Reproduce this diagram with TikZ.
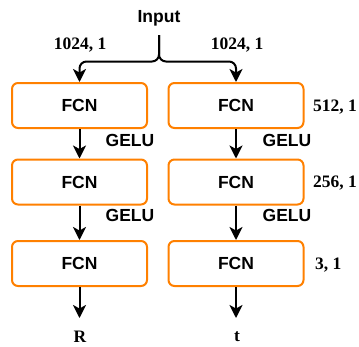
\documentclass[tikz,border=0pt]{standalone}
\usepackage{fontspec}
\setmainfont{Liberation Serif}
\setsansfont{Liberation Sans}
\usetikzlibrary{arrows.meta}
\definecolor{boxorange}{RGB}{255,128,0}
\begin{document}
\begin{tikzpicture}[x=1pt,y=-1pt,
  fcn/.style={draw=boxorange,line width=2pt,rounded corners=6pt,
    minimum width=135pt,minimum height=45pt,inner sep=0pt,
    font=\sffamily\bfseries\fontsize{17.5}{20}\selectfont},
  flow/.style={line width=2pt,-{Stealth[length=13pt,width=13pt,inset=3.5pt]}},
  act/.style={font=\sffamily\bfseries\fontsize{17.5}{20}\selectfont,inner sep=0pt},
  dims/.style={font=\rmfamily\bfseries\fontsize{17.5}{20}\selectfont,inner sep=0pt},
]
\useasboundingbox (0,0) rectangle (359,346);

% input and the split into two branches
\node[act] (input) at (159,18) {Input};
\coordinate (split) at (159,35);

% left branch (rotation)
\node[fcn] (l1) at (79.5,105.5) {FCN};
\node[fcn] (l2) at (79.5,182) {FCN};
\node[fcn] (l3) at (79.5,263.5) {FCN};
% right branch (translation)
\node[fcn] (r1) at (236,105.5) {FCN};
\node[fcn] (r2) at (236,182) {FCN};
\node[fcn] (r3) at (236,263.5) {FCN};

\draw[flow,rounded corners=7pt] (split) -- (159,61.5) -- (l1.north |- 0,61.5) -- (l1.north);
\draw[flow,rounded corners=7pt] (split) -- (159,61.5) -- (r1.north |- 0,61.5) -- (r1.north);

\node[dims] (inl) at (80,45) {1024, 1};
\node[dims] (inr) at (237,45) {1024, 1};

\draw[flow] (l1) -- (l2);
\draw[flow] (l2) -- (l3);
\draw[flow] (r1) -- (r2);
\draw[flow] (r2) -- (r3);

\node[act] (gl1) at (130,140) {GELU};
\node[act] (gr1) at (287,140) {GELU};
\node[act] (gl2) at (130,215) {GELU};
\node[act] (gr2) at (287,215) {GELU};

\node[dims,anchor=west] (d1) at (313,107) {512, 1};
\node[dims,anchor=west] (d2) at (313,183) {256, 1};
\node[dims,anchor=west] (d3) at (315,265) {3, 1};

% outputs
\node[dims] (outR) at (80,337) {R};
\node[dims] (outt) at (237,337) {t};
\coordinate (endl) at (79.5,318);
\coordinate (endr) at (236,318);
\draw[flow] (l3) -- (endl);
\draw[flow] (r3) -- (endr);
\end{tikzpicture}
\end{document}
